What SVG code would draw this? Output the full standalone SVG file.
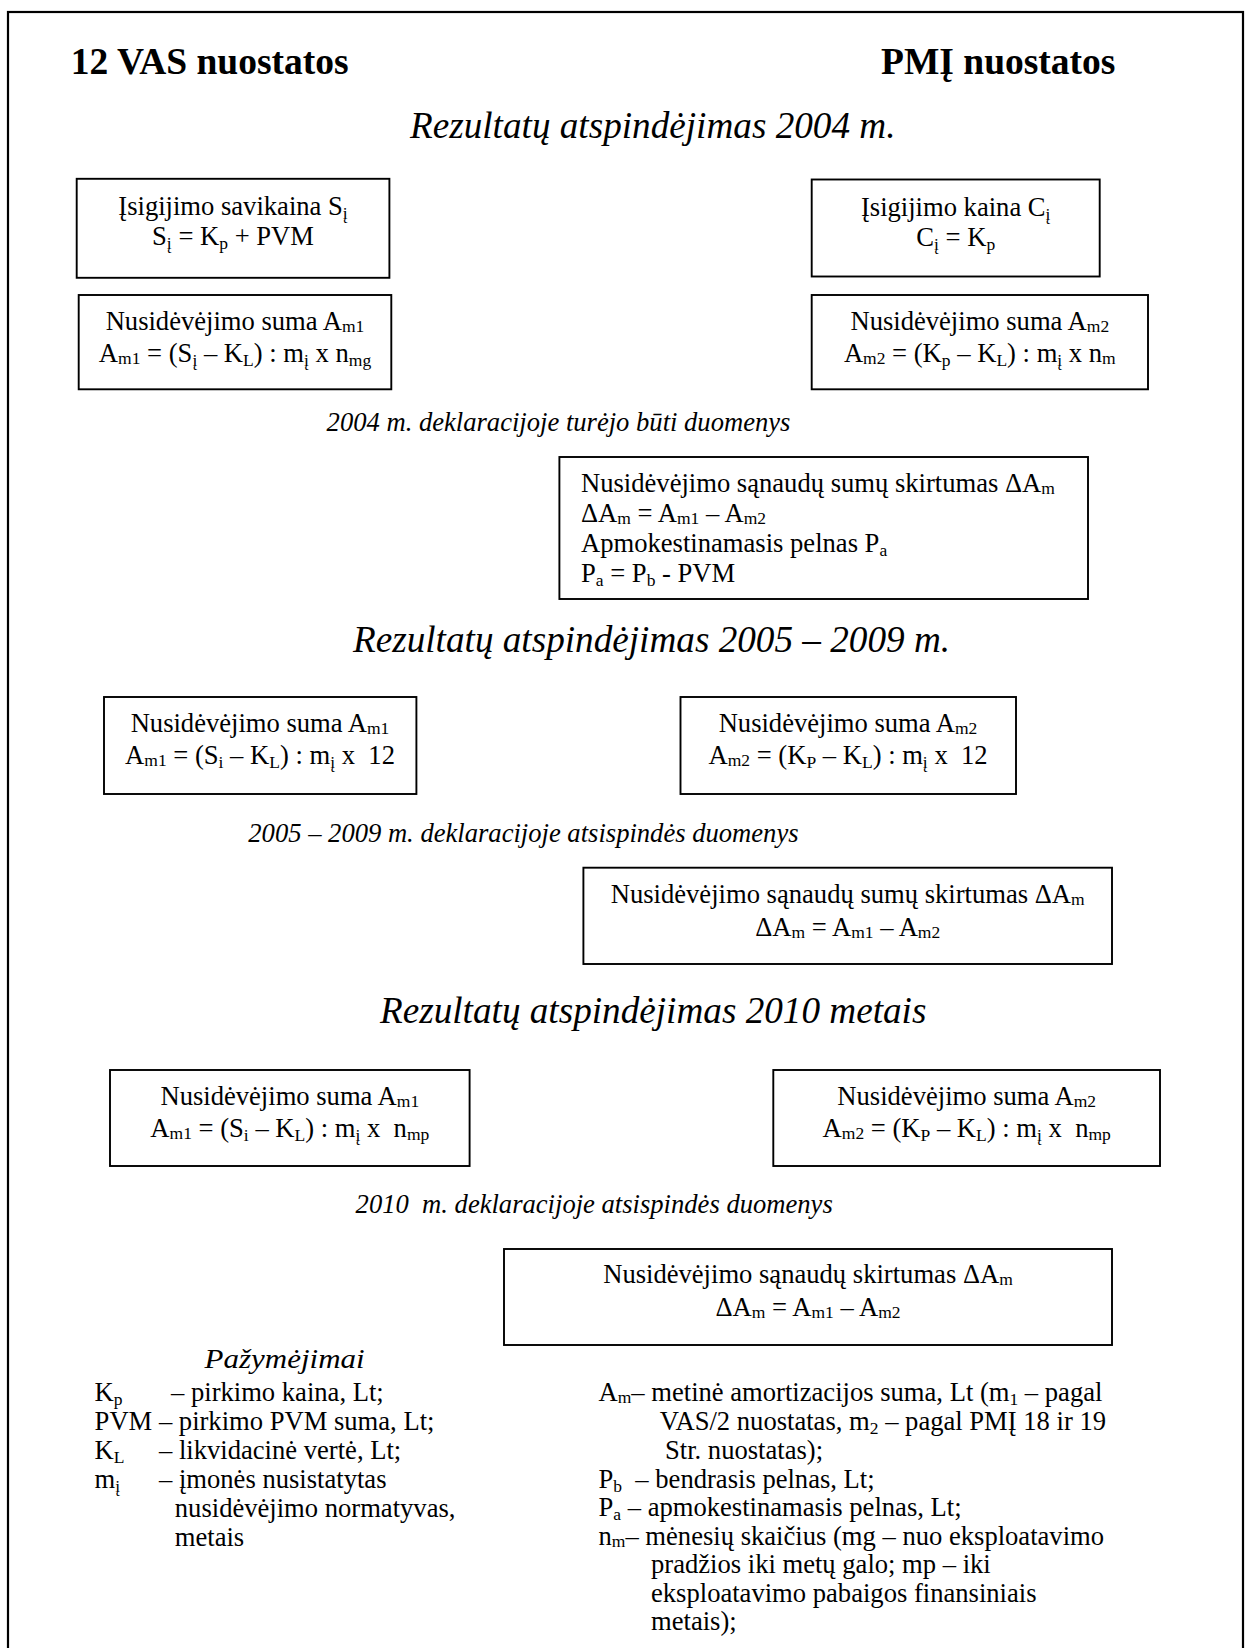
<svg xmlns="http://www.w3.org/2000/svg" width="1246" height="1648" viewBox="0 0 1246 1648">
<style>
text { font-family: "Liberation Serif", "Times New Roman", serif; font-size: 26.6px; fill: #000; }
.h { font-size: 37.5px; font-weight: bold; }
.hi { font-size: 37.2px; font-style: italic; }
.it { font-style: italic; }
.c { text-anchor: middle; }
.box { fill: none; stroke: #000; stroke-width: 1.9; }
.frame { fill: none; stroke: #000; stroke-width: 2.2; }
.s { font-size: 17.5px; }
</style>
<rect class="frame" x="8" y="12" width="1235" height="1700"/>
<g id="connectors"></g>

<g id="title-left"><text class="h" x="70.7" y="74">12 VAS nuostatos</text></g>
<g id="title-right"><text class="h" x="881" y="74">PMĮ nuostatos</text></g>
<g id="heading-2004"><text class="hi" x="410" y="138">Rezultatų atspindėjimas 2004 m.</text></g>

<g id="box-savikaina">
<rect class="box" x="76.7" y="178.8" width="312.7" height="99"/>
<text class="c" x="233" y="215">Įsigijimo savikaina S<tspan class="s" dy="4">į</tspan></text>
<text class="c" x="233" y="245">S<tspan class="s" dy="4">į</tspan><tspan dy="-4"> = K</tspan><tspan class="s" dy="4">p</tspan><tspan dy="-4"> + PVM</tspan></text>
</g>

<g id="box-kaina">
<rect class="box" x="811.7" y="179.5" width="288" height="97"/>
<text class="c" x="955.7" y="216">Įsigijimo kaina C<tspan class="s" dy="4">į</tspan></text>
<text class="c" x="955.7" y="246">C<tspan class="s" dy="4">į</tspan><tspan dy="-4"> = K</tspan><tspan class="s" dy="4">p</tspan></text>
</g>

<g id="box-am1-2004">
<rect class="box" x="78.7" y="295" width="312.6" height="94.3"/>
<text class="c" x="235" y="330">Nusidėvėjimo suma A<tspan class="s" dy="1.5">m1</tspan></text>
<text class="c" x="235" y="362">A<tspan class="s" dy="1.5">m1</tspan><tspan dy="-1.5"> = (S</tspan><tspan class="s" dy="4">į</tspan><tspan dy="-4"> – K</tspan><tspan class="s" dy="4">L</tspan><tspan dy="-4">) : m</tspan><tspan class="s" dy="4">į</tspan><tspan dy="-4"> x n</tspan><tspan class="s" dy="4">mg</tspan></text>
</g>

<g id="box-am2-2004">
<rect class="box" x="811.7" y="295" width="336.3" height="94.3"/>
<text class="c" x="979.8" y="330">Nusidėvėjimo suma A<tspan class="s" dy="1.5">m2</tspan></text>
<text class="c" x="979.8" y="362">A<tspan class="s" dy="1.5">m2</tspan><tspan dy="-1.5"> = (K</tspan><tspan class="s" dy="4">p</tspan><tspan dy="-4"> – K</tspan><tspan class="s" dy="4">L</tspan><tspan dy="-4">) : m</tspan><tspan class="s" dy="4">į</tspan><tspan dy="-4"> x n</tspan><tspan class="s" dy="2">m</tspan></text>
</g>

<g id="note-2004"><text class="it" x="326.6" y="431">2004 m. deklaracijoje turėjo būti duomenys</text></g>

<g id="box-diff-2004">
<rect class="box" x="559.4" y="457" width="528.6" height="142"/>
<text x="581" y="492">Nusidėvėjimo sąnaudų sumų skirtumas ΔA<tspan class="s" dy="2">m</tspan></text>
<text x="581" y="522">ΔA<tspan class="s" dy="2">m</tspan><tspan dy="-2"> = A</tspan><tspan class="s" dy="1.5">m1</tspan><tspan dy="-1.5"> – A</tspan><tspan class="s" dy="1.5">m2</tspan></text>
<text x="581" y="552">Apmokestinamasis pelnas P<tspan class="s" dy="4">a</tspan></text>
<text x="581" y="582">P<tspan class="s" dy="4">a</tspan><tspan dy="-4"> = P</tspan><tspan class="s" dy="4">b</tspan><tspan dy="-4"> - PVM</tspan></text>
</g>

<g id="heading-2005"><text class="hi" x="353" y="652">Rezultatų atspindėjimas 2005 – 2009 m.</text></g>

<g id="box-am1-2005">
<rect class="box" x="104" y="697" width="312.4" height="97"/>
<text class="c" x="260" y="732">Nusidėvėjimo suma A<tspan class="s" dy="1.5">m1</tspan></text>
<text class="c" x="260" y="764" xml:space="preserve">A<tspan class="s" dy="1.5">m1</tspan><tspan dy="-1.5"> = (S</tspan><tspan class="s" dy="4">i</tspan><tspan dy="-4"> – K</tspan><tspan class="s" dy="4">L</tspan><tspan dy="-4">) : m</tspan><tspan class="s" dy="4">į</tspan><tspan dy="-4"> x  12</tspan></text>
</g>

<g id="box-am2-2005">
<rect class="box" x="680.5" y="697" width="335.5" height="97"/>
<text class="c" x="848" y="732">Nusidėvėjimo suma A<tspan class="s" dy="1.5">m2</tspan></text>
<text class="c" x="848" y="764" xml:space="preserve">A<tspan class="s" dy="1.5">m2</tspan><tspan dy="-1.5"> = (K</tspan><tspan class="s" dy="4">P</tspan><tspan dy="-4"> – K</tspan><tspan class="s" dy="4">L</tspan><tspan dy="-4">) : m</tspan><tspan class="s" dy="4">į</tspan><tspan dy="-4"> x  12</tspan></text>
</g>

<g id="note-2005"><text class="it" x="248.3" y="842">2005 – 2009 m. deklaracijoje atsispindės duomenys</text></g>

<g id="box-diff-2005">
<rect class="box" x="583.4" y="867.7" width="528.6" height="96.3"/>
<text class="c" x="847.7" y="903">Nusidėvėjimo sąnaudų sumų skirtumas ΔA<tspan class="s" dy="2">m</tspan></text>
<text class="c" x="847.7" y="936">ΔA<tspan class="s" dy="2">m</tspan><tspan dy="-2"> = A</tspan><tspan class="s" dy="1.5">m1</tspan><tspan dy="-1.5"> – A</tspan><tspan class="s" dy="1.5">m2</tspan></text>
</g>

<g id="heading-2010"><text class="hi" x="380" y="1023">Rezultatų atspindėjimas 2010 metais</text></g>

<g id="box-am1-2010">
<rect class="box" x="110" y="1070" width="359.6" height="96"/>
<text class="c" x="289.8" y="1105">Nusidėvėjimo suma A<tspan class="s" dy="1.5">m1</tspan></text>
<text class="c" x="289.8" y="1137" xml:space="preserve">A<tspan class="s" dy="1.5">m1</tspan><tspan dy="-1.5"> = (S</tspan><tspan class="s" dy="4">i</tspan><tspan dy="-4"> – K</tspan><tspan class="s" dy="4">L</tspan><tspan dy="-4">) : m</tspan><tspan class="s" dy="4">į</tspan><tspan dy="-4"> x  n</tspan><tspan class="s" dy="3">mp</tspan></text>
</g>

<g id="box-am2-2010">
<rect class="box" x="773.3" y="1070" width="386.7" height="96"/>
<text class="c" x="966.7" y="1105">Nusidėvėjimo suma A<tspan class="s" dy="1.5">m2</tspan></text>
<text class="c" x="966.7" y="1137" xml:space="preserve">A<tspan class="s" dy="1.5">m2</tspan><tspan dy="-1.5"> = (K</tspan><tspan class="s" dy="4">P</tspan><tspan dy="-4"> – K</tspan><tspan class="s" dy="4">L</tspan><tspan dy="-4">) : m</tspan><tspan class="s" dy="4">į</tspan><tspan dy="-4"> x  n</tspan><tspan class="s" dy="3">mp</tspan></text>
</g>

<g id="note-2010"><text class="it" x="355.6" y="1213" xml:space="preserve">2010  m. deklaracijoje atsispindės duomenys</text></g>

<g id="box-diff-2010">
<rect class="box" x="504" y="1249" width="608" height="96"/>
<text class="c" x="808" y="1283">Nusidėvėjimo sąnaudų skirtumas ΔA<tspan class="s" dy="2">m</tspan></text>
<text class="c" x="808" y="1316">ΔA<tspan class="s" dy="2">m</tspan><tspan dy="-2"> = A</tspan><tspan class="s" dy="1.5">m1</tspan><tspan dy="-1.5"> – A</tspan><tspan class="s" dy="1.5">m2</tspan></text>
</g>

<g id="legend-left">
<text class="it" x="204.6" y="1368" textLength="160" lengthAdjust="spacingAndGlyphs">Pažymėjimai</text>
<text x="94.6" y="1401">K<tspan class="s" dy="4">p</tspan></text>
<text x="171" y="1401">– pirkimo kaina, Lt;</text>
<text x="94.6" y="1430">PVM – pirkimo PVM suma, Lt;</text>
<text x="94.6" y="1459">K<tspan class="s" dy="4">L</tspan></text>
<text x="159" y="1459">– likvidacinė vertė, Lt;</text>
<text x="94.6" y="1488">m<tspan class="s" dy="4">į</tspan></text>
<text x="159" y="1488">– įmonės nusistatytas</text>
<text x="174.8" y="1517">nusidėvėjimo normatyvas,</text>
<text x="174.8" y="1546">metais</text>
</g>

<g id="legend-right">
<text x="598.5" y="1401">A<tspan class="s" dy="2">m</tspan><tspan dy="-2">– metinė amortizacijos suma, Lt (m</tspan><tspan class="s" dy="4">1</tspan><tspan dy="-4"> – pagal</tspan></text>
<text x="659.7" y="1430">VAS/2 nuostatas, m<tspan class="s" dy="4">2</tspan><tspan dy="-4"> – pagal PMĮ 18 ir 19</tspan></text>
<text x="665" y="1458.5">Str. nuostatas);</text>
<text x="598.5" y="1487.5" xml:space="preserve">P<tspan class="s" dy="4">b</tspan><tspan dy="-4">  – bendrasis pelnas, Lt;</tspan></text>
<text x="598.5" y="1516">P<tspan class="s" dy="4">a</tspan><tspan dy="-4"> – apmokestinamasis pelnas, Lt;</tspan></text>
<text x="598.5" y="1544.5">n<tspan class="s" dy="2">m</tspan><tspan dy="-2">– mėnesių skaičius (mg – nuo eksploatavimo</tspan></text>
<text x="651" y="1573">pradžios iki metų galo; mp – iki</text>
<text x="651" y="1601.5">eksploatavimo pabaigos finansiniais</text>
<text x="651" y="1630">metais);</text>
</g>
</svg>
